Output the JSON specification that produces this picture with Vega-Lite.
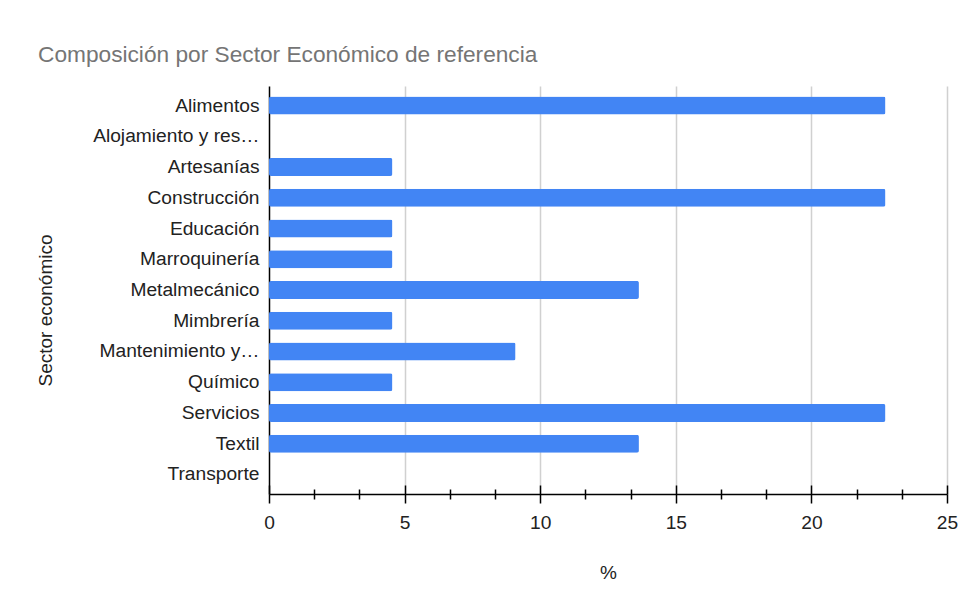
{
  "$schema": "https://vega.github.io/schema/vega-lite/v6.json",
  "autosize": {"type": "none"},
  "width": 678,
  "height": 408,
  "padding": {"left": 269, "top": 86, "right": 21, "bottom": 111},
  "background": "#ffffff",
  "title": {
    "text": "Composición por Sector Económico de referencia",
    "anchor": "start",
    "frame": "group",
    "dx": -231,
    "offset": 19,
    "font": "Liberation Sans",
    "fontSize": 22.7,
    "fontWeight": "normal",
    "color": "#757575"
  },
  "config": {
    "view": {"stroke": null},
    "font": "Liberation Sans"
  },
  "data": {
    "values": [
      {"sector": "Alimentos", "pct": 22.73},
      {"sector": "Alojamiento y res…", "pct": 0},
      {"sector": "Artesanías", "pct": 4.55},
      {"sector": "Construcción", "pct": 22.73},
      {"sector": "Educación", "pct": 4.55},
      {"sector": "Marroquinería", "pct": 4.55},
      {"sector": "Metalmecánico", "pct": 13.64},
      {"sector": "Mimbrería", "pct": 4.55},
      {"sector": "Mantenimiento y…", "pct": 9.09},
      {"sector": "Químico", "pct": 4.55},
      {"sector": "Servicios", "pct": 22.73},
      {"sector": "Textil", "pct": 13.64},
      {"sector": "Transporte", "pct": 0}
    ]
  },
  "encoding": {
    "y": {
      "field": "sector",
      "type": "nominal",
      "sort": null,
      "scale": {"paddingInner": 0.41, "paddingOuter": 0.34},
      "axis": {
        "title": "Sector económico",
        "titleFont": "Liberation Sans",
        "titleFontSize": 19,
        "titleFontWeight": "normal",
        "titleColor": "#222222",
        "titleAngle": -90,
        "titleX": -224,
        "titleY": 224,
        "titleAlign": "center",
        "titleBaseline": "middle",
        "labelFont": "Liberation Sans",
        "labelFontSize": 19.2,
        "labelColor": "#222222",
        "labelPadding": 10,
        "labelLimit": 300,
        "ticks": false,
        "domain": true,
        "domainColor": "#000000",
        "domainWidth": 1.5,
        "grid": false
      }
    },
    "x": {
      "field": "pct",
      "type": "quantitative",
      "scale": {"domain": [0, 25], "nice": false},
      "axis": {
        "title": "%",
        "titleFont": "Liberation Sans",
        "titleFontSize": 19,
        "titleFontWeight": "normal",
        "titleColor": "#222222",
        "titleX": 339,
        "titleY": 78,
        "titleBaseline": "middle",
        "values": [0, 1.667, 3.333, 5, 6.667, 8.333, 10, 11.667, 13.333, 15, 16.667, 18.333, 20, 21.667, 23.333, 25],
        "labelExpr": "datum.value % 5 === 0 ? datum.label : ''",
        "labelFlush": false,
        "labelOverlap": false,
        "labelFont": "Liberation Sans",
        "labelFontSize": 19.2,
        "labelColor": "#222222",
        "labelPadding": 10,
        "domainColor": "#000000",
        "domainWidth": 1.5,
        "tickColor": "#000000",
        "tickWidth": 1.5,
        "tickSize": {"condition": {"test": "datum.value % 5 === 0", "value": 9}, "value": 5},
        "grid": true,
        "gridColor": {"condition": {"test": "datum.value % 5 === 0 && datum.value > 0", "value": "#d0d0d0"}, "value": "transparent"},
        "gridWidth": 1.5
      }
    }
  },
  "layer": [
    {
      "mark": {"type": "bar", "color": "#4285f4", "cornerRadius": 2}
    },
    {
      "mark": {"type": "bar", "opacity": 0},
      "encoding": {
        "x": {
          "field": "pct",
          "type": "quantitative",
          "scale": {"domain": [0, 25], "nice": false},
          "axis": {
            "orient": "bottom",
            "title": null,
            "values": [0, 1.667, 3.333, 5, 6.667, 8.333, 10, 11.667, 13.333, 15, 16.667, 18.333, 20, 21.667, 23.333, 25],
            "labels": false,
            "domain": false,
            "grid": false,
            "tickColor": "#000000",
            "tickWidth": 1.5,
            "tickSize": {"condition": {"test": "datum.value % 5 === 0", "value": -9}, "value": -5}
          }
        }
      }
    }
  ],
  "resolve": {"axis": {"x": "independent"}}
}
